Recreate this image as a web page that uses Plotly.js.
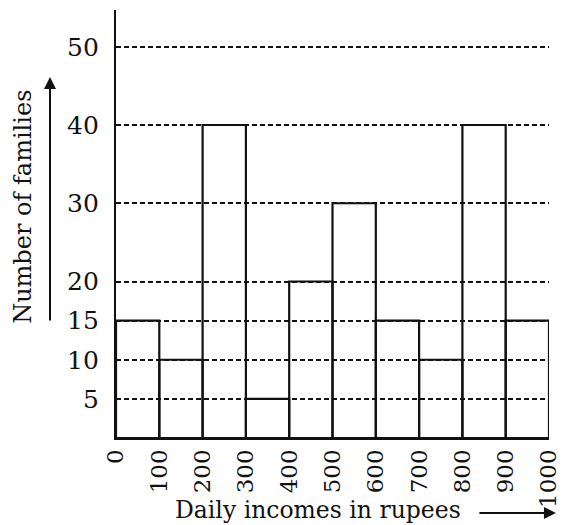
<!DOCTYPE html>
<html>
<head>
<meta charset="utf-8">
<script src="https://cdn.plot.ly/plotly-3.0.1.min.js"></script>
<style>html,body{margin:0;padding:0;background:#fff;}#chart{width:563px;height:525px;}</style>
</head>
<body>
<div id="chart"></div>
<script>
// Class intervals (lower edges) of daily income in rupees, and number of families
const binStarts = [0, 100, 200, 300, 400, 500, 600, 700, 800, 900];
const binWidth = 100;
const families = [15, 10, 40, 5, 20, 30, 15, 10, 40, 15];
const xTickVals = [0, 100, 200, 300, 400, 500, 600, 700, 800, 900, 1000];
const yTickVals = [5, 10, 15, 20, 30, 40, 50];
const xTitle = 'Daily incomes in rupees';
const yTitle = 'Number of families';

const FONT = 'DejaVu Serif, Liberation Serif, serif';

const trace = {
  type: 'bar',
  x: binStarts.map(s => s + binWidth / 2),
  y: families,
  width: binStarts.map(() => binWidth),
  marker: { color: 'rgba(0,0,0,0)', line: { color: '#111', width: 2.2 } },
  hoverinfo: 'x+y'
};

const layout = {
  width: 563, height: 525,
  margin: { l: 116, r: 14, t: 10, b: 87 },
  paper_bgcolor: '#fff', plot_bgcolor: '#fff',
  font: { family: FONT, color: '#111', size: 24 },
  showlegend: false,
  bargap: 0,
  xaxis: {
    range: [0, 1000],
    tickvals: xTickVals,
    ticktext: xTickVals.map(String),
    tickangle: -90,
    ticks: '',
    ticklabelstandoff: 0,
    ticklabeloverflow: 'allow',
    showgrid: false,
    zeroline: false,
    showline: true, linecolor: '#111', linewidth: 2.2,
    tickfont: { family: FONT, size: 23, color: '#111' }
  },
  yaxis: {
    range: [0, 54.7],
    tickvals: yTickVals,
    ticks: '',
    ticklabelstandoff: 10,
    showgrid: true, gridcolor: '#111', gridwidth: 2, griddash: '5px,3px',
    zeroline: false,
    showline: true, linecolor: '#111', linewidth: 2.2,
    tickfont: { family: FONT, size: 25, color: '#111' }
  },
  annotations: [
    { xref: 'paper', yref: 'paper', x: 0.4665, y: -0.168, xanchor: 'center', yanchor: 'middle',
      text: xTitle, showarrow: false, font: { family: FONT, size: 23.5, color: '#111' } },
    { xref: 'paper', yref: 'paper', x: -0.2148, y: 0.54, xanchor: 'center', yanchor: 'middle',
      text: yTitle, textangle: -90, showarrow: false, font: { family: FONT, size: 24, color: '#111' } },
    { xref: 'paper', yref: 'paper', x: -0.1524, y: 0.8435, axref: 'pixel', ayref: 'pixel',
      ax: 0, ay: 245, text: '', showarrow: true, arrowhead: 2, arrowsize: 1.2, arrowwidth: 2, arrowcolor: '#111' },
    { xref: 'paper', yref: 'paper', x: 1.016, y: -0.175, axref: 'pixel', ayref: 'pixel',
      ax: -78, ay: 0, text: '', showarrow: true, arrowhead: 2, arrowsize: 1.2, arrowwidth: 2, arrowcolor: '#111' }
  ]
};

Plotly.newPlot('chart', [trace], layout, { displayModeBar: false, staticPlot: true });
</script>
</body>
</html>
